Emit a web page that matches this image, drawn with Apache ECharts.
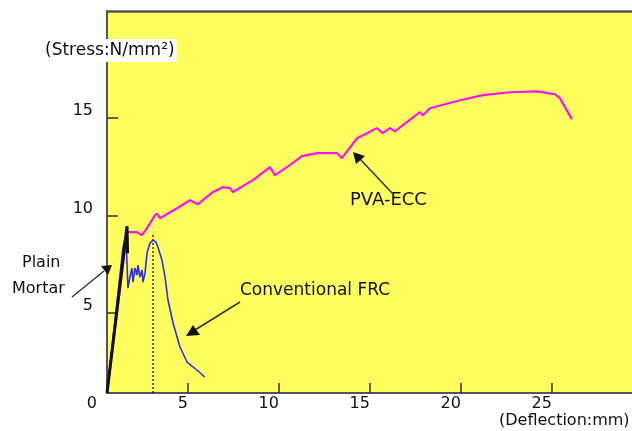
<!DOCTYPE html>
<html>
<head>
<meta charset="utf-8">
<script src="https://cdn.jsdelivr.net/npm/echarts@6/dist/echarts.min.js"></script>
<style>
html,body{margin:0;padding:0;background:#fff;}
#c{width:632px;height:431px;}
</style>
</head>
<body>
<div id="c"></div>
<script>
// ---- data (deflection mm, stress N/mm²) ----
const pvaDeflection = [0.55,1.65,2.20,2.47,2.75,3.19,3.30,3.46,4.40,5.11,5.55,6.37,6.92,7.31,7.47,8.57,9.51,9.78,10.60,11.26,12.09,13.19,13.46,14.29,14.84,15.38,15.71,16.10,16.37,17.75,17.91,18.30,19.95,21.21,22.69,24.18,25.16,25.44,26.10];
const pvaStress     = [0.90,9.15,9.15,9.00,9.36,10.03,10.10,9.87,10.38,10.79,10.59,11.21,11.46,11.41,11.21,11.82,12.49,12.08,12.59,13.05,13.21,13.21,12.95,13.97,14.23,14.49,14.23,14.49,14.33,15.31,15.15,15.51,15.92,16.18,16.33,16.38,16.23,16.03,14.95];

const frcDeflection = [0.55,1.43,1.59,1.70,1.81,1.92,1.98,2.09,2.20,2.25,2.36,2.47,2.53,2.64,2.75,2.91,3.08,3.24,3.35,3.57,3.74,3.90,4.18,4.56,4.95,5.49,5.93];
const frcStress     = [0.90,8.38,9.00,6.28,6.85,7.31,6.59,7.31,6.95,7.46,6.85,7.21,6.59,7.05,8.08,8.59,8.74,8.64,8.38,7.72,6.85,5.67,4.49,3.26,2.49,2.08,1.72];

const mortarDeflection = [0.55,1.65,1.68];
const mortarStress     = [0.90,9.46,8.07];

const frcPeakDeflection = [3.08,3.08];
const frcPeakStress     = [0.90,9.05];

const xTicks = [5,10,15,20,25];
const yTicks = [5,10,15];

const pairs = (xs, ys) => xs.map((x, i) => [x, ys[i]]);

const chart = echarts.init(document.getElementById('c'), null, {renderer:'canvas'});
const FONT = 'DejaVu Sans';
const INK = '#111';

chart.setOption({
  animation: false,
  backgroundColor: '#ffffff',
  grid: {
    left: 107, right: 0, top: 11, bottom: 38,
    show: true, backgroundColor: '#ffff60', borderWidth: 0,
    containLabel: false, outerBoundsMode: 'none'
  },
  xAxis: [{
    type: 'value', min: 0.55, max: 29.4,
    splitLine: {show: false},
    axisLine: {show: true, onZero: false, lineStyle: {color: '#555', width: 2}},
    axisTick: {show: true, inside: true, length: 10, customValues: xTicks, lineStyle: {color: '#333', width: 1.5}},
    axisLabel: {show: true, customValues: xTicks, align: 'right', margin: 3,
      fontFamily: FONT, fontSize: 16, color: INK}
  }, {
    type: 'value', position: 'top', min: 0.55, max: 29.4,
    splitLine: {show: false},
    axisLine: {show: true, onZero: false, lineStyle: {color: '#555', width: 2.5}},
    axisTick: {show: false}, axisLabel: {show: false}
  }],
  yAxis: {
    type: 'value', min: 0.9, max: 20.5,
    splitLine: {show: false},
    axisLine: {show: true, onZero: false, lineStyle: {color: '#555', width: 2}},
    axisTick: {show: true, inside: true, length: 11, customValues: yTicks, lineStyle: {color: '#333', width: 1.5}},
    axisLabel: {show: true, customValues: yTicks, verticalAlign: 'bottom', lineHeight: 14, margin: 14,
      fontFamily: FONT, fontSize: 16, color: INK}
  },
  series: [
    {
      name: 'Conventional FRC', type: 'line', data: pairs(frcDeflection, frcStress),
      showSymbol: false, lineStyle: {color: '#2a2ff0', width: 1.6}, z: 3
    },
    {
      name: 'PVA-ECC', type: 'line', data: pairs(pvaDeflection, pvaStress),
      showSymbol: false, lineStyle: {color: '#ff10f0', width: 2.2}, z: 2
    },
    {
      name: 'Plain Mortar', type: 'line', data: pairs(mortarDeflection, mortarStress),
      showSymbol: false, lineStyle: {color: '#111', width: 3}, z: 4
    },
    {
      name: 'FRC peak', type: 'line', data: pairs(frcPeakDeflection, frcPeakStress),
      showSymbol: false, lineStyle: {color: '#111', width: 1.3, type: [2, 2]}, z: 2
    }
  ],
  graphic: [
    // axis titles
    {type: 'text', left: 43, top: 39, z: 100,
      style: {text: '(Stress:N/mm²)', font: '17px "DejaVu Sans"', fill: INK,
        backgroundColor: '#fff', padding: [3, 2, 3, 2]}},
    {type: 'text', left: 499, top: 413, z: 100,
      style: {text: '(Deflection:mm)', font: '16px "DejaVu Sans"', fill: INK}},
    // origin label
    {type: 'text', right: 632 - 97, top: 396, z: 100,
      style: {text: '0', font: '16px "DejaVu Sans"', fill: INK}},
    // annotations
    {type: 'text', left: 22, top: 255, z: 100,
      style: {text: 'Plain', font: '16px "DejaVu Sans"', fill: INK}},
    {type: 'text', left: 12, top: 281, z: 100,
      style: {text: 'Mortar', font: '16px "DejaVu Sans"', fill: INK}},
    {type: 'text', left: 240, top: 282, z: 100,
      style: {text: 'Conventional FRC', font: '17px "DejaVu Sans"', fill: INK}},
    {type: 'text', left: 350, top: 191, z: 100,
      style: {text: 'PVA-ECC', font: '18px "DejaVu Sans"', fill: INK}},
    // arrows
    {type: 'line', z: 100, shape: {x1: 72, y1: 297, x2: 104, y2: 271}, style: {stroke: '#333', lineWidth: 1.5}},
    {type: 'polygon', z: 100, shape: {points: [[112, 265], [101, 266], [108, 275]]}, style: {fill: '#111'}},
    {type: 'line', z: 100, shape: {x1: 240, y1: 302, x2: 195, y2: 330}, style: {stroke: '#333', lineWidth: 1.5}},
    {type: 'polygon', z: 100, shape: {points: [[186, 336], [193, 325], [200, 335]]}, style: {fill: '#111'}},
    {type: 'line', z: 100, shape: {x1: 393, y1: 194, x2: 360, y2: 159}, style: {stroke: '#333', lineWidth: 1.5}},
    {type: 'polygon', z: 100, shape: {points: [[353, 152], [365, 156], [356, 164]]}, style: {fill: '#111'}}
  ]
});
</script>
</body>
</html>
